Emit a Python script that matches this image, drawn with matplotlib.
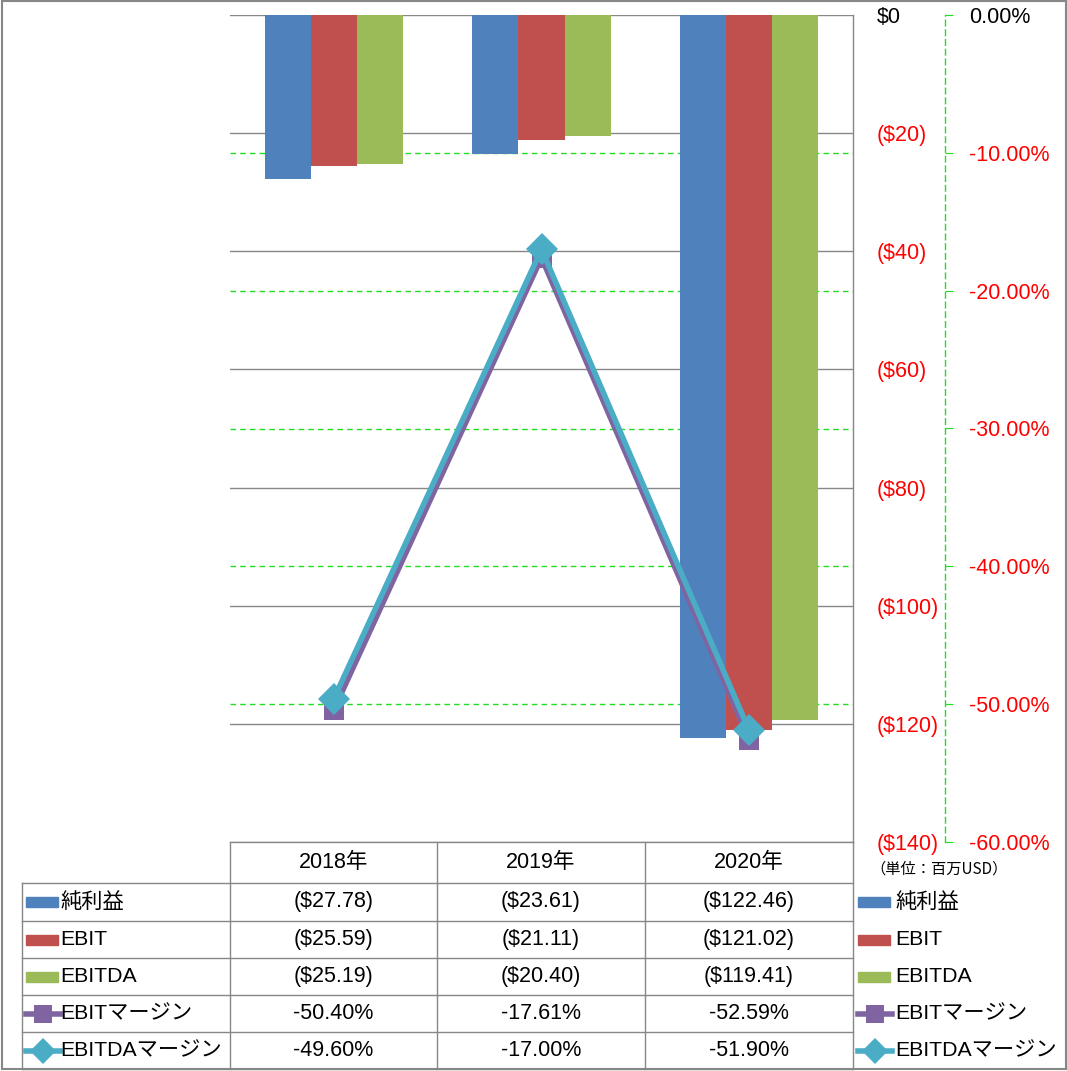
import numpy as np
import matplotlib.pyplot as plt
from matplotlib.patches import Rectangle
from matplotlib.transforms import blended_transform_factory

plt.rcParams['font.family'] = ['Liberation Sans', 'Noto Sans CJK JP']

# data
years = ['2018年', '2019年', '2020年']
net_income = [-27.78, -23.61, -122.46]
ebit = [-25.59, -21.11, -121.02]
ebitda = [-25.19, -20.40, -119.41]
ebit_margin = [-50.40, -17.61, -52.59]
ebitda_margin = [-49.60, -17.00, -51.90]

bar_names = ['純利益', 'EBIT', 'EBITDA']
line_names = ['EBITマージン', 'EBITDAマージン']
bar_colors = ['#4F81BD', '#C0504D', '#9BBB59']
line_colors = ['#8064A2', '#4BACC6']
line_markers = ['s', 'D']

usd_ticks = [0, -20, -40, -60, -80, -100, -120, -140]
pct_ticks = [0, -10, -20, -30, -40, -50, -60]

W, H = 1067, 1071
GRAY = '#878787'
GREEN = '#22DD22'
RED = '#FF0000'
FS = 15.5

fig = plt.figure(figsize=(W / 100, H / 100), dpi=100)

# pixel layout of plot area
px_l, px_r, px_t, px_b = 230, 853, 15, 842
ax = fig.add_axes([px_l / W, 1 - px_b / H, (px_r - px_l) / W, (px_b - px_t) / H])
ax2 = ax.twinx()

x = np.arange(len(years))
bw = 0.222
for i, (vals, c) in enumerate(zip([net_income, ebit, ebitda], bar_colors)):
    ax.bar(x + (i - 1) * bw, vals, bw, color=c, zorder=2)

ax.set_xlim(-0.5, 2.5)
ax.set_ylim(-140, 0)
ax.set_xticks([])
ax.set_yticks(usd_ticks, ['$0' if v == 0 else f'(${-v})' for v in usd_ticks])
ax.yaxis.tick_right()
ax.tick_params(axis='y', length=0, pad=17.3, labelsize=FS)
ax.grid(axis='y', color=GRAY, lw=1.0)
ax.set_axisbelow(True)
for s in ['left', 'top']:
    ax.spines[s].set_visible(False)
for s in ['right', 'bottom']:
    ax.spines[s].set_color(GRAY)
    ax.spines[s].set_linewidth(1.0)

# secondary axis
ax2.set_ylim(-60, 0)
ax2.set_yticks(pct_ticks, [f'{v:.2f}%' for v in pct_ticks])
ax2.spines['right'].set_position(('outward', 66.2))
ax2.spines['right'].set_color(GREEN)
ax2.spines['right'].set_linestyle((0, (4, 3)))
ax2.spines['right'].set_linewidth(1.0)
for s in ['left', 'top', 'bottom']:
    ax2.spines[s].set_visible(False)
ax2.tick_params(axis='y', direction='out', length=5.8, color=GREEN, pad=11.5,
                labelsize=FS)

# colour the tick labels: zero black, negatives red
for a, ticks in [(ax, usd_ticks), (ax2, pct_ticks)]:
    for t, v in zip(a.yaxis.get_major_ticks(), ticks):
        for lab in (t.label1, t.label2):
            lab.set_color('black' if v == 0 else RED)
            lab.set_fontsize(FS)

# green dashed secondary gridlines under the bars
tr = blended_transform_factory(ax.transAxes, ax2.transData)
for v in pct_ticks[1:-1]:
    ax.plot([0, 1], [v, v], transform=tr, color=GREEN, lw=1.0,
            ls=(0, (4, 3)), zorder=1)

for vals, c, m, ms in zip([ebit_margin, ebitda_margin], line_colors, line_markers, [15, 16]):
    ax2.plot(x, vals, color=c, lw=4, marker=m, ms=ms, markeredgewidth=0,
             clip_on=False, zorder=3)

# data table and legends drawn in pixel coordinates
tax = fig.add_axes([0, 0, 1, 1], zorder=-1)
tax.set_xlim(0, W)
tax.set_ylim(H, 0)
tax.axis('off')

col_x = [230, 437, 645, 853]
row_y = [842, 883, 921, 958, 995, 1032, 1069]
tax.plot([22, 22], [883, 1069], color=GRAY, lw=1.0)
for cx in col_x:
    tax.plot([cx, cx], [842, 1069], color=GRAY, lw=1.0)
for ry in row_y[1:]:
    tax.plot([22, 853], [ry, ry], color=GRAY, lw=1.0)
tax.add_patch(Rectangle((1.5, 0.5), W - 3, H - 2.5, fill=False, ec=GRAY, lw=1.5))

for j, yr in enumerate(years):
    cx = (col_x[j] + col_x[j + 1]) / 2
    tax.text(cx, 862, yr, ha='center', va='center', fontsize=FS)

rows = [[f'(${-v:.2f})' for v in net_income],
        [f'(${-v:.2f})' for v in ebit],
        [f'(${-v:.2f})' for v in ebitda],
        [f'{v:.2f}%' for v in ebit_margin],
        [f'{v:.2f}%' for v in ebitda_margin]]
for r, row in enumerate(rows):
    cy = (row_y[r + 1] + row_y[r + 2]) / 2
    for j, txt in enumerate(row):
        cx = (col_x[j] + col_x[j + 1]) / 2
        tax.text(cx, cy, txt, ha='center', va='center', fontsize=FS)

def legend_key(x0, cy, k):
    if k < 3:
        tax.add_patch(Rectangle((x0, cy - 5), 32, 10, color=bar_colors[k]))
    else:
        c = line_colors[k - 3]
        tax.plot([x0, x0 + 34], [cy, cy], color=c, lw=4)
        tax.plot([x0 + 17], [cy], color=c, marker=line_markers[k - 3],
                 ms=[13, 13][k - 3], markeredgewidth=0)

names = bar_names + line_names
for k, name in enumerate(names):
    cy = (row_y[k + 1] + row_y[k + 2]) / 2
    legend_key(26, cy, k)
    tax.text(60, cy, name, ha='left', va='center', fontsize=15.3)
    legend_key(858, cy, k)
    tax.text(895, cy, name, ha='left', va='center', fontsize=15.3)

tax.text(870, 869, '（単位：百万USD）', ha='left', va='center', fontsize=11,
         family=['Noto Sans CJK JP'])

fig.savefig('out.png', dpi=100)
